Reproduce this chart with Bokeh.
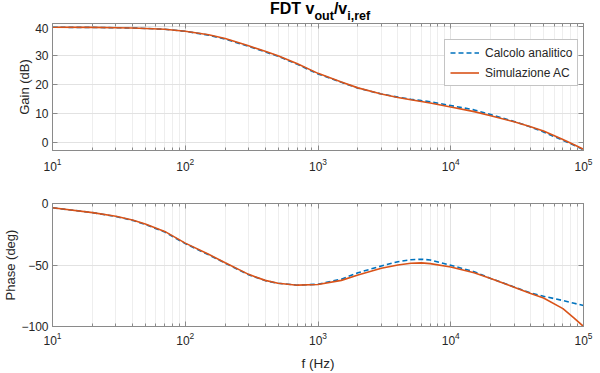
from bokeh.plotting import figure
from bokeh.layouts import column
from bokeh.models import (Range1d, FixedTicker, LogTickFormatter, LogAxis,
                          LinearAxis, Legend, LegendItem, Div,
                          CustomJSTickFormatter)
from bokeh.embed import file_html
from bokeh.resources import INLINE

# ---------------- data ----------------
freq = [10, 20, 30, 40, 50, 70, 100, 150, 200, 300, 400, 500, 700, 1000,
        1500, 2000, 3000, 4000, 5000, 6000, 7000, 10000, 15000, 20000,
        30000, 40000, 50000, 70000, 85000, 100000]

gain_sim = [39.6, 39.55, 39.45, 39.35, 39.2, 38.9, 38.2, 37.0, 35.7, 33.2,
            31.3, 29.8, 27.0, 23.7, 20.7, 18.7, 16.6, 15.4, 14.6, 14.0,
            13.5, 12.1, 10.5, 9.1, 7.0, 5.3, 3.8, 0.9, -0.9, -2.5]
gain_calc = [39.6, 39.55, 39.45, 39.35, 39.2, 38.9, 38.2, 36.9, 35.5, 33.0,
             31.1, 29.6, 26.8, 23.5, 20.6, 18.6, 16.6, 15.5, 14.8, 14.3,
             13.9, 12.6, 11.1, 9.5, 7.1, 5.2, 3.5, 0.6, -1.1, -2.7]

phase_sim = [-3.5, -7.4, -10.4, -13.4, -16.7, -22.7, -32.2, -41.3, -48.1,
             -57.6, -62.5, -64.8, -66.4, -65.8, -62.5, -58.2, -52.7, -50.0,
             -48.6, -48.3, -48.9, -51.6, -56.3, -60.9, -68.0, -73.2, -76.8,
             -85.5, -93.2, -100.0]
phase_calc = [-3.5, -7.4, -10.6, -13.7, -17.1, -23.1, -32.6, -41.7, -48.5,
              -57.9, -62.7, -64.9, -66.4, -65.6, -61.5, -56.3, -50.8, -47.3,
              -45.7, -45.3, -45.9, -50.2, -55.5, -60.9, -67.8, -72.7, -75.4,
              -78.9, -81.1, -83.0]

x_major = [10, 100, 1000, 10000, 100000]
x_mantissa = [2, 3, 4, 5, 6, 7, 8, 9]
gain_ticks = [0, 10, 20, 30, 40]
phase_ticks = [-100, -50, 0]
gain_lim = (-2.9, 40.9)
phase_lim = (-100, 0)

series_labels = ["Calcolo analitico", "Simulazione AC"]
title_parts = ["FDT v", "out", "/v", "i,ref"]

# ---------------- style ----------------
FONT = "Liberation Sans"
TXT = "#262626"
AXC = "#8a8a8a"
BLUE = "#0072BD"
RED = "#D95319"
W = 600
x_minor = [m * d for d in x_major[:-1] for m in x_mantissa]


def style_axis(ax, minor=True):
    ax.axis_line_color = AXC
    ax.major_tick_line_color = AXC
    ax.minor_tick_line_color = AXC if minor else None
    ax.major_tick_in = 5
    ax.major_tick_out = 0
    ax.minor_tick_in = 3
    ax.minor_tick_out = 0
    ax.major_label_text_font = FONT
    ax.major_label_text_font_size = "12px"
    ax.major_label_text_color = TXT
    ax.axis_label_text_font = FONT
    ax.axis_label_text_font_size = "13.5px"
    ax.axis_label_text_font_style = "normal"
    ax.axis_label_text_color = TXT


def hidden_axis(ax, minor=True):
    style_axis(ax, minor)
    ax.formatter = CustomJSTickFormatter(code="return ''")
    ax.major_label_text_font_size = "1px"
    ax.major_label_standoff = 0


def make_fig(height, ylim, yticks, ylabel, xlabel, top, bottom,
             xt_standoff=7, xl_standoff=1):
    xt = FixedTicker(ticks=x_major, minor_ticks=x_minor)
    yt = FixedTicker(ticks=yticks)
    p = figure(width=W, height=height, x_axis_type="log",
               x_range=Range1d(x_major[0], x_major[-1]),
               y_range=Range1d(*ylim), output_backend="svg",
               toolbar_location=None, min_border_left=49,
               min_border_right=17, min_border_top=top,
               min_border_bottom=bottom)
    p.background_fill_color = "white"
    p.border_fill_color = "white"
    p.outline_line_color = AXC
    p.xaxis.ticker = xt
    p.xaxis.formatter = LogTickFormatter()
    p.yaxis.ticker = yt
    for ax in p.xaxis:
        style_axis(ax)
        ax.major_label_standoff = xt_standoff
        ax.axis_label_standoff = xl_standoff
    for ax in p.yaxis:
        style_axis(ax, minor=False)
        ax.major_label_standoff = 4
        ax.axis_label_standoff = 0
        ax.axis_label_text_font_size = "13px"
    p.yaxis.axis_label = ylabel
    if xlabel:
        p.xaxis.axis_label = xlabel
    top_ax = LogAxis(ticker=xt)
    hidden_axis(top_ax)
    p.add_layout(top_ax, "above")
    right_ax = LinearAxis(ticker=yt)
    hidden_axis(right_ax, minor=False)
    p.add_layout(right_ax, "right")
    p.xgrid.ticker = xt
    p.ygrid.ticker = yt
    p.xgrid.grid_line_color = "#e2e2e2"
    p.xgrid.minor_grid_line_color = "#eeeeee"
    p.ygrid.grid_line_color = "#e2e2e2"
    return p


# ---------------- title strip (HTML text with subscripts) ----------------
TH = 23
sub_style = "font-size:12.5px;position:relative;top:6px;"
title_html = (
    '<div style="padding-left:270px;font-family:\'Liberation Sans\';'
    'font-weight:bold;font-size:16px;line-height:18px;color:#000;'
    'white-space:nowrap;">'
    f'{title_parts[0]}<span style="{sub_style}">{title_parts[1]}</span>'
    f'{title_parts[2]}<span style="{sub_style}">{title_parts[3]}</span></div>'
)
pt = Div(text=title_html, width=W, height=TH,
         styles={"margin": "0", "padding": "0"})

# ---------------- gain ----------------
p1 = make_fig(153, gain_lim, gain_ticks, "Gain (dB)", None, 0, 26)
r1 = p1.line(freq, gain_calc, line_color=BLUE, line_width=1.6,
             line_dash="5 3")
r2 = p1.line(freq, gain_sim, line_color=RED, line_width=1.6)

legend = Legend(items=[LegendItem(label=series_labels[0], renderers=[r1]),
                       LegendItem(label=series_labels[1], renderers=[r2])],
                location=(392, 64), padding=5, spacing=5, margin=0,
                glyph_width=29, glyph_height=15, label_height=15,
                label_standoff=6, label_text_font=FONT,
                label_text_font_size="12px", label_text_color=TXT,
                border_line_color=AXC, border_line_width=1,
                background_fill_color="white", background_fill_alpha=1.0)
p1.add_layout(legend)

# ---------------- phase ----------------
p2 = make_fig(197, phase_lim, phase_ticks, "Phase (deg)", "f (Hz)", 27, 47,
              xt_standoff=5, xl_standoff=8)
p2.line(freq, phase_calc, line_color=BLUE, line_width=1.6, line_dash="5 3")
p2.line(freq, phase_sim, line_color=RED, line_width=1.6)

layout = column(pt, p1, p2, spacing=0)
open("out.html", "w").write(file_html(layout, INLINE))
